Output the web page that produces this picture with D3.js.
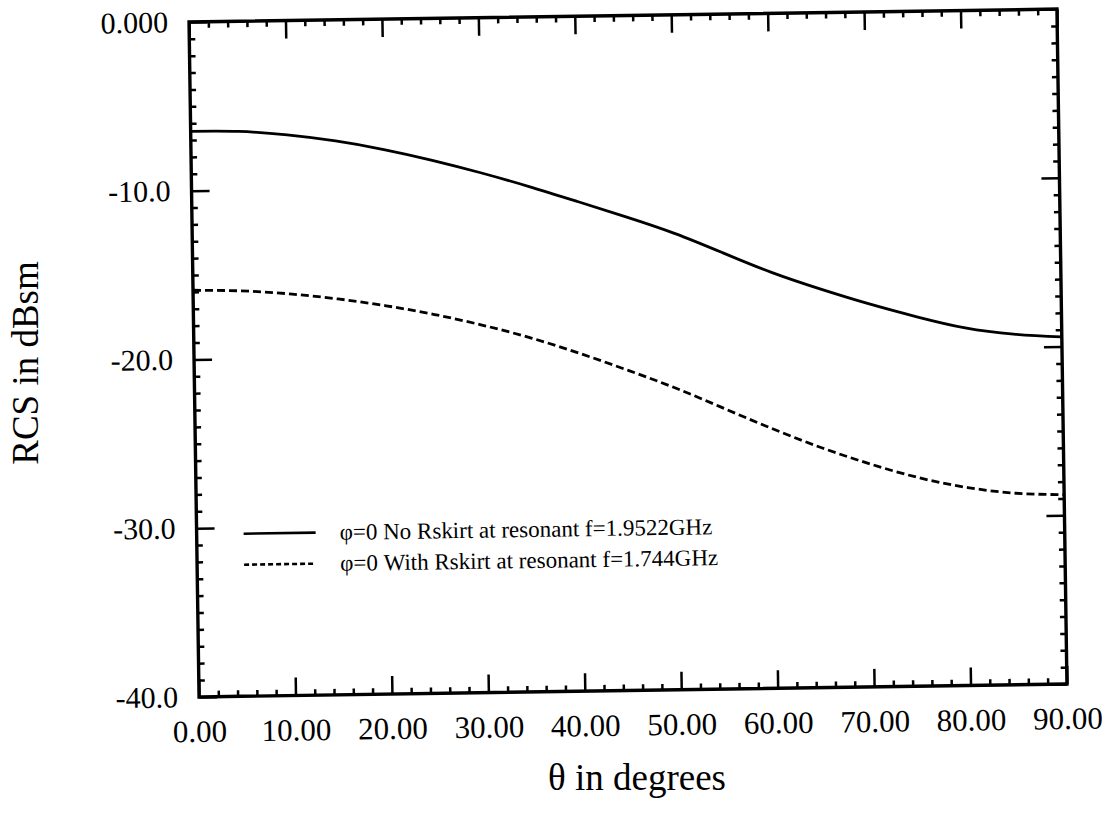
<!DOCTYPE html>
<html>
<head>
<meta charset="utf-8">
<script src="https://cdn.jsdelivr.net/npm/d3@7"></script>
<style>
  html, body { margin: 0; padding: 0; background: #fff; }
  svg { display: block; }
  text { font-family: "Liberation Serif", "DejaVu Serif", serif; fill: #000; }
</style>
</head>
<body>
<svg id="chart" width="1114" height="827"></svg>
<script>
// ---- data ----
const theta = [0, 5, 10, 15, 20, 25, 30, 35, 40, 45, 50, 55, 60, 65, 70, 75, 80, 85, 90];
const rcsNoSkirt = [-6.48, -6.53, -6.78, -7.18, -7.73, -8.41, -9.19, -10.05, -10.98, -11.93, -12.95, -14.15, -15.35, -16.37, -17.29, -18.11, -18.81, -19.22, -19.43];
const rcsWithSkirt = [-15.9, -15.98, -16.2, -16.54, -16.99, -17.55, -18.23, -19.03, -19.98, -21.03, -22.15, -23.4, -24.65, -25.8, -26.8, -27.65, -28.27, -28.65, -28.78];
const seriesLabels = ["\u03c6=0 No Rskirt at resonant f=1.9522GHz", "\u03c6=0 With Rskirt at resonant f=1.744GHz"];
const xTickValues = [0, 10, 20, 30, 40, 50, 60, 70, 80, 90];
const xTickLabels = ["0.00", "10.00", "20.00", "30.00", "40.00", "50.00", "60.00", "70.00", "80.00", "90.00"];
const yTickValues = [0, -10, -20, -30, -40];
const yTickLabels = ["0.000", "-10.0", "-20.0", "-30.0", "-40.0"];
const xMinorStep = 2;
const yMinorStep = 1;
const xTitle = "\u03b8 in degrees";
const yTitle = "RCS in dBsm";

// ---- layout ----
const L = 194, R = 1062, T = 15.5, B = 690.5;
const svg = d3.select("#chart");
// the scanned original is slightly tilted; reproduce that tilt
const plot = svg.append("g").attr("transform", "rotate(-0.85,628,353)");
const x = d3.scaleLinear().domain([0, 90]).range([L, R]);
const y = d3.scaleLinear().domain([-40, 0]).range([B, T]);

const xMinor = d3.range(0, 90 + 1e-9, xMinorStep).filter(v => !xTickValues.includes(v));
const yMinor = d3.range(-40, 0 + 1e-9, yMinorStep).filter(v => !yTickValues.includes(Math.round(v)));

function styleAxis(g) {
  g.select(".domain").remove();
  g.selectAll("line").attr("stroke", "#000").attr("stroke-width", 2.5);
}

// bottom axis (labels + inward ticks)
plot.append("g").attr("transform", `translate(0,${B})`)
  .call(d3.axisBottom(x).tickValues(xTickValues).tickFormat((d, i) => xTickLabels[i]).tickSize(-18).tickPadding(23))
  .call(styleAxis)
  .call(g => g.selectAll("text").attr("font-size", 31).attr("font-family", "Liberation Serif"));
plot.append("g").attr("transform", `translate(0,${B})`)
  .call(d3.axisBottom(x).tickValues(xMinor).tickFormat("").tickSize(-6))
  .call(styleAxis);
// top axis ticks
plot.append("g").attr("transform", `translate(0,${T})`)
  .call(d3.axisTop(x).tickValues(xTickValues).tickFormat("").tickSize(-18))
  .call(styleAxis);
plot.append("g").attr("transform", `translate(0,${T})`)
  .call(d3.axisTop(x).tickValues(xMinor).tickFormat("").tickSize(-6))
  .call(styleAxis);
// left axis
plot.append("g").attr("transform", `translate(${L},0)`)
  .call(d3.axisLeft(y).tickValues(yTickValues).tickFormat((d, i) => yTickLabels[i]).tickSize(-18).tickPadding(21))
  .call(styleAxis)
  .call(g => g.selectAll("text").attr("font-size", 30).attr("font-family", "Liberation Serif"));
plot.append("g").attr("transform", `translate(${L},0)`)
  .call(d3.axisLeft(y).tickValues(yMinor).tickFormat("").tickSize(-6))
  .call(styleAxis);
// right axis ticks
plot.append("g").attr("transform", `translate(${R},0)`)
  .call(d3.axisRight(y).tickValues(yTickValues).tickFormat("").tickSize(-18))
  .call(styleAxis);
plot.append("g").attr("transform", `translate(${R},0)`)
  .call(d3.axisRight(y).tickValues(yMinor).tickFormat("").tickSize(-6))
  .call(styleAxis);

// frame
plot.append("rect").attr("x", L).attr("y", T).attr("width", R - L).attr("height", B - T)
  .attr("fill", "none").attr("stroke", "#000").attr("stroke-width", 3.4);

// curves
const line = d3.line().x((d, i) => x(theta[i])).y(d => y(d)).curve(d3.curveNatural);
plot.append("path").datum(rcsNoSkirt).attr("d", line)
  .attr("fill", "none").attr("stroke", "#000").attr("stroke-width", 2.8);
plot.append("path").datum(rcsWithSkirt).attr("d", line)
  .attr("fill", "none").attr("stroke", "#000").attr("stroke-width", 2.8).attr("stroke-dasharray", "8,4");

// legend
const legend = plot.append("g");
const legendDash = [null, "5,3"];
[0, 1].forEach(i => {
  const ly = 528 + i * 31;
  legend.append("line").attr("x1", 241).attr("x2", 313).attr("y1", ly).attr("y2", ly)
    .attr("stroke", "#000").attr("stroke-width", 2.6).attr("stroke-dasharray", legendDash[i]);
  legend.append("text").attr("x", 337).attr("y", ly + 7.5).attr("font-size", 23).text(seriesLabels[i]);
});

// axis titles
svg.append("text").attr("x", 637).attr("y", 790).attr("text-anchor", "middle").attr("font-size", 37).text(xTitle);
svg.append("text").attr("transform", "translate(38,363) rotate(-90)").attr("text-anchor", "middle").attr("font-size", 37).text(yTitle);
</script>
</body>
</html>
